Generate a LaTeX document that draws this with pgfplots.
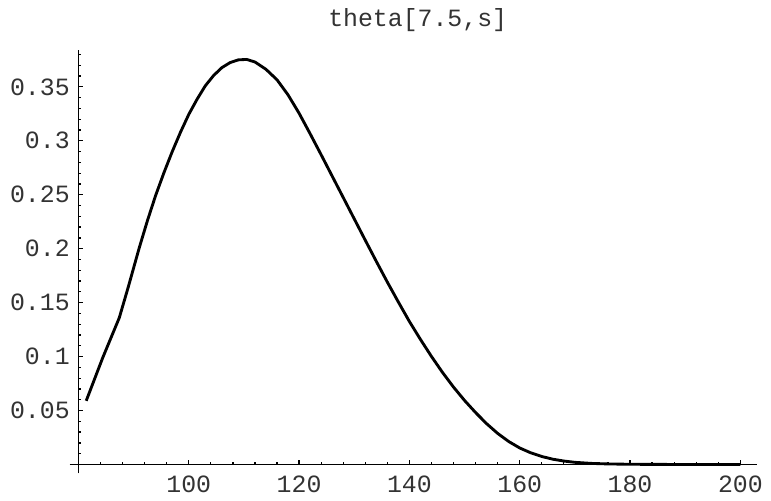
\documentclass[border=0pt]{standalone}
\usepackage{fontspec}
\setmonofont{Liberation Mono}
\usepackage{pgfplots}
\pgfplotsset{compat=1.18}
\begin{document}
\begin{tikzpicture}
\begin{axis}[
  scale only axis,
  width=273.1pt, height=170.4pt,
  xmin=80, xmax=203, ymin=-0.0083, ymax=0.384,
  axis x line=middle, axis y line=left,
  x axis line style={-, shorten <=-3.6pt},
  y axis line style={-},
  clip=false,
  tick align=inside,
  major tick length=2pt, minor tick length=1.1pt,
  xtick={100,120,140,160,180,200},
  xticklabels={100,120,140,160,180,200},
  minor xtick={84,88,...,196},
  ytick={0.05,0.1,0.15,0.2,0.25,0.3,0.35},
  yticklabels={0.05,0.1,0.15,0.2,0.25,0.3,0.35},
  minor ytick={0.01,0.02,0.03,0.04,0.06,0.07,0.08,0.09,0.11,0.12,0.13,0.14,0.16,0.17,0.18,0.19,0.21,0.22,0.23,0.24,0.26,0.27,0.28,0.29,0.31,0.32,0.33,0.34,0.36,0.37,0.38},
  scaled ticks=false,
  tick style={black, line width=0.5pt},
  ticklabel style={font=\ttfamily\fontsize{10}{12}\selectfont, text=black!80},
  xticklabel style={anchor=north, yshift=-1pt},
  title={theta[7.5,s]},
  title style={font=\ttfamily\fontsize{10}{12}\selectfont, text=black!80, yshift=-2pt},
  axis line style={line width=0.6pt},
]
\addplot[black, line width=1.15pt, line join=round] coordinates {
(81.4,0.059) (84.4,0.099) (87.4,0.136) (89.0,0.164) (91.0,0.2005)
(92.5,0.226) (94.0,0.2495) (95.5,0.2705) (97.0,0.290) (98.5,0.308)
(100.0,0.3245) (101.5,0.3385) (103.0,0.351) (104.5,0.3605) (106.0,0.3678)
(107.5,0.3725) (109.0,0.3750) (110.5,0.3754) (112.0,0.3730) (114.0,0.3662)
(116.0,0.3565) (118.0,0.3425) (120.0,0.3255) (122.0,0.3065) (124.0,0.2870)
(126.0,0.2672) (128.0,0.2474) (130.0,0.2276) (132.0,0.2078) (134.0,0.1882)
(136.0,0.1690) (138.0,0.1505) (140.0,0.1325) (142.0,0.1159) (144.0,0.1001)
(146.0,0.0853) (148.0,0.0717) (150.0,0.0593) (152.0,0.0481) (154.0,0.0378)
(156.0,0.0288) (158.0,0.0213) (160.0,0.0153) (162.0,0.0108) (164.0,0.0074)
(166.0,0.0049) (168.0,0.0032) (170.0,0.0020) (173.0,0.0010) (176.0,0.0005)
(180.0,0.0002) (185.0,0.00007) (190.0,0.00002) (200.0,0)
};
\path (axis cs:65.77,-0.02606) rectangle (axis cs:204.68,0.4215);
\end{axis}
\end{tikzpicture}
\end{document}
